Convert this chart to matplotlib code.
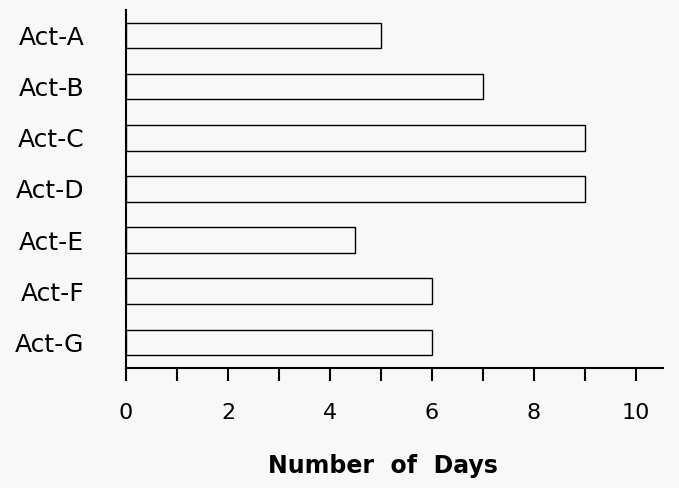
import matplotlib.pyplot as plt
from matplotlib.ticker import MultipleLocator

# activities and their durations (days)
activities = ['Act-A', 'Act-B', 'Act-C', 'Act-D', 'Act-E', 'Act-F', 'Act-G']
days = [5, 7, 9, 9, 4.5, 6, 6]

plt.rcParams['font.family'] = ['DejaVu Sans']

fig = plt.figure(figsize=(6.79, 4.88), dpi=100, facecolor='#f8f8f8')
ax = fig.add_axes([0.1856, 0.246, 0.7908, 0.7335])
ax.set_facecolor('#f8f8f8')

ax.barh(range(len(activities)), days, height=0.5, color='#f8f8f8',
        edgecolor='black', linewidth=1.0, zorder=3)

ax.set_yticks(range(len(activities)))
ax.set_yticklabels(activities, fontsize=18)
ax.set_ylim(6.5, -0.5)
ax.set_xlim(0, 10.53)

ax.xaxis.set_major_locator(MultipleLocator(2))
ax.xaxis.set_minor_locator(MultipleLocator(1))
ax.tick_params(axis='x', which='both', direction='out', length=9, width=1.5,
               labelsize=16, pad=16)
ax.tick_params(axis='y', length=0, pad=30)

for s in ['top', 'right']:
    ax.spines[s].set_visible(False)
ax.spines['left'].set_linewidth(1.5)
ax.spines['bottom'].set_linewidth(1.5)

ax.set_xlabel('Number  of  Days', fontsize=17, fontweight='bold')
ax.xaxis.set_label_coords(0.4786, -0.24)

fig.savefig('out.png', dpi=100, facecolor='#f8f8f8')
